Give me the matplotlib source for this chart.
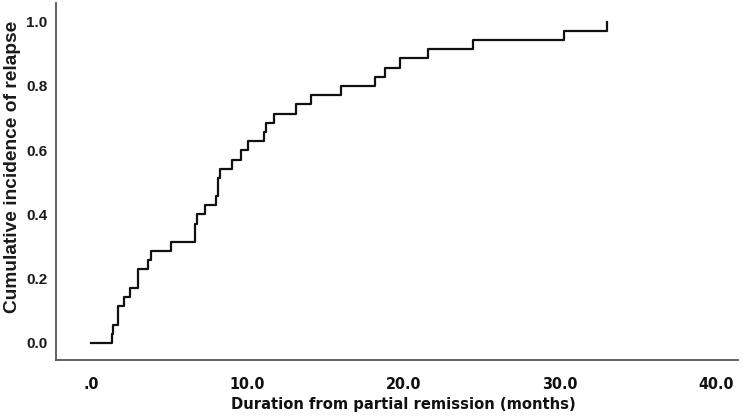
import matplotlib
matplotlib.use("Agg")
import matplotlib.pyplot as plt
from matplotlib.ticker import FixedLocator, FixedFormatter

# event times (months) and cumulative incidence after each event
times = [0.0, 1.32, 1.41, 1.70, 2.10, 2.52, 3.00, 3.67, 3.83, 5.11, 6.68, 6.77,
         7.32, 7.97, 8.15, 8.25, 9.03, 9.57, 10.05, 11.05, 11.23, 11.71, 13.14,
         14.10, 16.02, 18.19, 18.79, 19.79, 21.55, 24.47, 30.29, 33.05]
incidence = [0.0, 0.029, 0.057, 0.114, 0.143, 0.171, 0.229, 0.257, 0.286, 0.314,
             0.371, 0.400, 0.429, 0.457, 0.514, 0.543, 0.571, 0.600, 0.629, 0.657,
             0.686, 0.714, 0.743, 0.771, 0.800, 0.829, 0.857, 0.886, 0.914, 0.943,
             0.971, 1.000]

xticks = [0, 10, 20, 30, 40]
xticklabels = [".0", "10.0", "20.0", "30.0", "40.0"]
yticks = [0.0, 0.2, 0.4, 0.6, 0.8, 1.0]
yticklabels = ["0.0", "0.2", "0.4", "0.6", "0.8", "1.0"]

fig = plt.figure(figsize=(7.49, 4.17), dpi=100)
ax = fig.add_axes([0.0748, 0.1367, 0.9102, 0.856])

ax.step(times, incidence, where="post", color="#111111", linewidth=1.6)

ax.set_xlim(-2.24, 41.4)
ax.set_ylim(-0.053, 1.058)

for s in ["top", "right"]:
    ax.spines[s].set_visible(False)
for s in ["left", "bottom"]:
    ax.spines[s].set_color("#555555")
    ax.spines[s].set_linewidth(1.3)

ax.xaxis.set_major_locator(FixedLocator(xticks))
ax.xaxis.set_major_formatter(FixedFormatter(xticklabels))
ax.yaxis.set_major_locator(FixedLocator(yticks))
ax.yaxis.set_major_formatter(FixedFormatter(yticklabels))
ax.tick_params(axis="both", length=0)
ax.tick_params(axis="x", pad=12)
ax.tick_params(axis="y", pad=6)

narrow = ["DejaVu Sans", "Liberation Sans"]
for lab in ax.get_xticklabels():
    lab.set_family(narrow)
    lab.set_fontstretch("condensed")
    lab.set_fontweight("bold")
    lab.set_fontsize(11.5)
    lab.set_color("#111111")
for lab in ax.get_yticklabels():
    lab.set_family(["Liberation Sans", "DejaVu Sans"])
    lab.set_fontweight("bold")
    lab.set_fontsize(11)
    lab.set_color("#1a1a1a")

xl = ax.set_xlabel("Duration from partial remission (months)", family=narrow,
                   fontstretch="condensed", fontweight="bold", fontsize=11.8,
                   color="#111111")
xl.set_verticalalignment("center")
ax.xaxis.set_label_coords(0.51, -0.126)

yl = ax.set_ylabel("Cumulative incidence of relapse", family=["Liberation Sans", "DejaVu Sans"],
                   fontweight="bold", fontsize=13.8, color="#1a1a1a")
yl.set_verticalalignment("center")
ax.yaxis.set_label_coords(-0.064, 0.54)

fig.savefig("out.png", dpi=100)
